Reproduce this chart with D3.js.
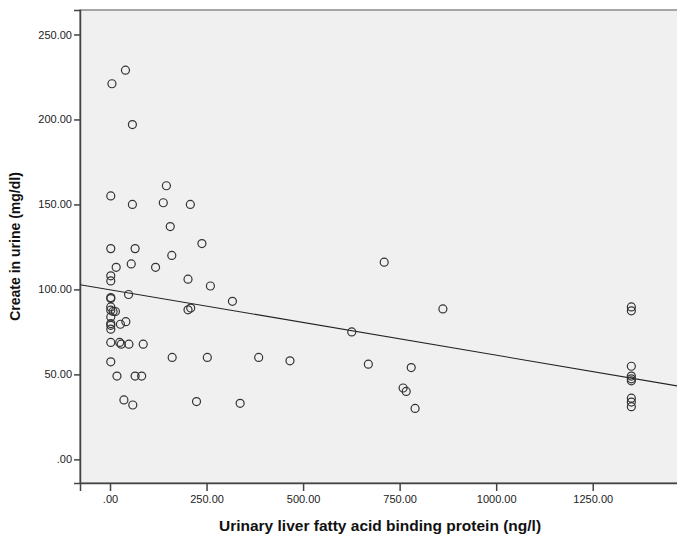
<!DOCTYPE html>
<html lang="en">
<head>
    <meta charset="UTF-8"/>
    <title>Create in urine vs urinary L-FABP</title>
    <style>
        html, body { margin: 0; background: #fff; }
        svg { display: block; font-family: "Liberation Sans", Arial, sans-serif; }
    </style>
    <script src="https://cdn.jsdelivr.net/npm/d3@7"></script>
</head>
<body>
<div id="container"></div>
<script>
    // points: urinary L-FABP (ng/l) and creatinine in urine (mg/dl)
    const lfabp = [
        5, 40, 58, 146, 2, 58, 138, 208, 156, 238,
        2, 65, 160, 55, 16, 118, 2, 2, 202, 260,
        48, 2, 2, 317, 202, 209, 2, 2, 8, 14,
        2, 2, 2, 2, 27, 41, 2, 25, 29, 49,
        86, 161, 252, 385, 466, 2, 18, 65, 82, 36,
        59, 224, 337,
        710, 862, 626, 669, 780, 759, 767, 790,
        1350, 1350, 1350, 1350, 1350, 1350, 1350, 1350, 1350
    ]
    const creat = [
        221, 229, 197, 161, 155, 150, 151, 150, 137, 127,
        124, 124, 120, 115, 113, 113, 108, 105, 106, 102,
        97, 95.2, 94.6, 93, 88, 89, 89.7, 87.8, 87, 87,
        83.8, 79.9, 78.9, 76.6, 79.5, 81, 68.8, 68.8, 67.8, 67.8,
        67.8, 60, 60, 60, 58, 57.4, 49, 49, 49, 35,
        32, 34, 33,
        116, 88.5, 75, 56, 54, 42, 40, 30,
        89.7, 87.4, 54.8, 49, 47.4, 46.2, 36, 33.7, 31
    ]

    // fit line as drawn in the chart
    const fitIntercept = 99.8
    const fitSlope = -0.0385

    const xTicks = [0, 250, 500, 750, 1000, 1250]
    const yTicks = [0, 50, 100, 150, 200, 250]

    const width = 677
    const height = 538
    const margin = {top: 10, right: -3, bottom: 55, left: 80}

    const x = d3.scaleLinear()
        .domain([-77.7, 1476])
        .range([margin.left, width - margin.right])
    const y = d3.scaleLinear()
        .domain([-13.9, 264.4])
        .range([height - margin.bottom, margin.top])

    const fmt = v => d3.format(".2f")(v).replace(/^0\./, ".")

    const svg = d3.select("#container")
        .append("svg")
        .attr("width", width)
        .attr("height", height)

    svg.append("defs").append("clipPath")
        .attr("id", "plot-clip")
        .append("rect")
        .attr("x", margin.left)
        .attr("y", margin.top)
        .attr("width", width - margin.right - margin.left)
        .attr("height", height - margin.bottom - margin.top)

    // plot background and frame
    svg.append("rect")
        .attr("x", margin.left)
        .attr("y", margin.top)
        .attr("width", width - margin.right - margin.left)
        .attr("height", height - margin.bottom - margin.top)
        .attr("fill", "#f0f0f0")
        .attr("stroke", "#8a8a8a")
        .attr("stroke-width", 1.5)

    // axes
    const xAxis = svg.append("g")
        .attr("transform", `translate(0,${height - margin.bottom})`)
        .call(d3.axisBottom(x).tickValues(xTicks).tickFormat(fmt).tickSize(8).tickPadding(4))
    const yAxis = svg.append("g")
        .attr("transform", `translate(${margin.left},0)`)
        .call(d3.axisLeft(y).tickValues(yTicks).tickFormat(fmt).tickSize(6).tickPadding(2))

    for (const ax of [xAxis, yAxis]) {
        ax.select(".domain").attr("stroke", "#444").attr("stroke-width", 1.5)
        ax.selectAll(".tick line").attr("stroke", "#444").attr("stroke-width", 1.5)
        ax.selectAll(".tick text")
            .attr("fill", "#222")
            .attr("font-size", "11px")
            .attr("font-family", "Liberation Sans, Arial, sans-serif")
    }

    // axis titles
    svg.append("text")
        .attr("x", (margin.left + width - margin.right) / 2)
        .attr("y", 531)
        .attr("text-anchor", "middle")
        .attr("font-size", "15.5px")
        .attr("font-weight", "bold")
        .attr("fill", "#111")
        .text("Urinary liver fatty acid binding protein (ng/l)")

    svg.append("text")
        .attr("transform", `translate(20,${(margin.top + height - margin.bottom) / 2}) rotate(-90)`)
        .attr("text-anchor", "middle")
        .attr("font-size", "14px")
        .attr("font-weight", "bold")
        .attr("fill", "#111")
        .text("Create in urine (mg/dl)")

    const plot = svg.append("g").attr("clip-path", "url(#plot-clip)")

    // fit line
    const [x0, x1] = x.domain()
    plot.append("line")
        .attr("x1", x(x0))
        .attr("y1", y(fitIntercept + fitSlope * x0))
        .attr("x2", x(x1))
        .attr("y2", y(fitIntercept + fitSlope * x1))
        .attr("stroke", "#222")
        .attr("stroke-width", 1.1)

    // points
    plot.selectAll("circle")
        .data(d3.range(lfabp.length))
        .join("circle")
        .attr("cx", i => x(lfabp[i]))
        .attr("cy", i => y(creat[i]))
        .attr("r", 4)
        .attr("fill", "none")
        .attr("stroke", "#333")
        .attr("stroke-width", 1.2)
</script>
</body>
</html>
